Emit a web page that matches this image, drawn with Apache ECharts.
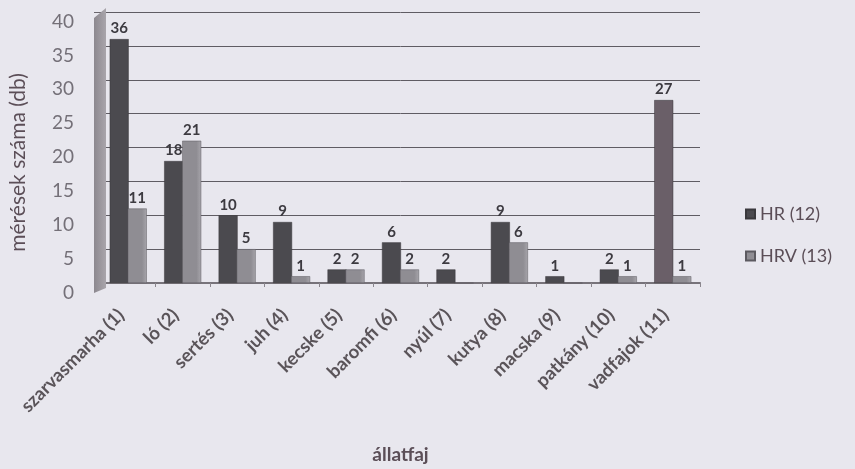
<!DOCTYPE html>
<html>
<head>
<meta charset="utf-8">
<script src="https://cdn.jsdelivr.net/npm/echarts@6/dist/echarts.min.js"></script>
<style>
  html, body { margin: 0; padding: 0; background: #e8e7ee; }
  #chart { width: 855px; height: 469px; }
</style>
</head>
<body>
<div id="chart"></div>
<script>
// Animal species (x categories)
const categories = [
  'szarvasmarha (1)', 'ló (2)', 'sertés (3)', 'juh (4)', 'kecske (5)',
  'baromfi (6)', 'nyúl (7)', 'kutya (8)', 'macska (9)', 'patkány (10)', 'vadfajok (11)'
];
// Number of measurements per species
const hrValues  = [36, 18, 10, 9, 2, 6, 2, 9, 1, 2, 27];
const hrvValues = [11, 21, 5, 1, 2, 2, 0, 6, 0, 1, 1];
const seriesNames = ['HR (12)', 'HRV (13)'];
const yTicks = [0, 5, 10, 15, 20, 25, 30, 35, 40];

const textColor = '#5b4e57';
const fontFam = 'Lato, "Open Sans", sans-serif';
const hrColor = '#4b4a4f';
const hrvColor = '#8f8d93';
const wildColor = '#6a5f68';

const chart = echarts.init(document.getElementById('chart'));

const valueLabel = {
  show: true,
  position: 'top',
  distance: 3,
  fontFamily: fontFam,
  fontWeight: 'bold',
  fontSize: 15,
  color: '#3c3a40',
  formatter: p => (p.value ? p.value : '')
};

// shaded column faces: lighter towards the right edge
const shade = (c1, c2) => new echarts.graphic.LinearGradient(0, 0, 1, 0, [
  { offset: 0, color: c1 }, { offset: 0.75, color: c1 }, { offset: 1, color: c2 }
]);

// the wild-species HR column is drawn in its own tint
const hrData = hrValues.map((v, i) =>
  i === categories.length - 1 ? { value: v, itemStyle: { color: wildColor } } : v
);

chart.setOption({
  backgroundColor: '#e8e7ee',
  animation: false,
  color: [hrColor, hrvColor],
  grid: { left: 100, right: 155, top: 12, bottom: 178, containLabel: false },
  legend: {
    orient: 'vertical',
    left: 740,
    top: 200,
    itemWidth: 9,
    itemHeight: 9,
    itemGap: 24,
    icon: 'rect',
    textStyle: { fontFamily: fontFam, fontSize: 18, color: textColor },
    data: seriesNames
  },
  xAxis: {
    type: 'category',
    data: categories,
    name: 'állatfaj',
    nameLocation: 'middle',
    nameGap: 162,
    nameTextStyle: { fontFamily: fontFam, fontSize: 19, fontWeight: 'bold', color: textColor },
    axisLine: { show: true, lineStyle: { color: '#77737a', width: 2 } },
    axisTick: { show: true, length: 4, lineStyle: { color: '#8a868d' } },
    axisLabel: {
      rotate: 45,
      interval: 0,
      margin: 22,
      padding: [0, 10, 0, 0],
      fontFamily: fontFam,
      fontSize: 18.5,
      fontWeight: 'bold',
      color: '#5a5459'
    }
  },
  yAxis: {
    type: 'value',
    min: 0,
    max: 40,
    interval: 5,
    name: 'mérések száma (db)',
    nameLocation: 'middle',
    nameGap: 72,
    nameTextStyle: { fontFamily: fontFam, fontSize: 21, color: textColor, padding: [0, 30, 0, 0] },
    axisLine: { show: false },
    axisTick: { show: true, length: 7, lineStyle: { color: '#6a666d' } },
    axisLabel: {
      margin: 27,
      fontFamily: fontFam,
      fontSize: 19,
      color: '#747078',
      verticalAlign: 'top',
      formatter: v => (yTicks.includes(v) ? String(v) : '')
    },
    splitLine: { show: true, lineStyle: { color: '#5f5c63', width: 1 } }
  },
  graphic: [
    {
      // shaded left side wall
      type: 'polygon',
      shape: { points: [[94, 18], [106, 8], [106, 288], [94, 293]] },
      style: { fill: new echarts.graphic.LinearGradient(0, 0, 1, 0, [
        { offset: 0, color: '#8c888f' }, { offset: 1, color: '#a9a5ab' }
      ]) },
      z: 1
    }
  ],
  series: [
    {
      name: seriesNames[0],
      type: 'bar',
      data: hrData,
      barWidth: 19,
      barGap: '-5%',
      itemStyle: { color: hrColor, borderColor: '#3a393d', borderWidth: 0.5 },
      label: valueLabel,
      z: 3
    },
    {
      name: seriesNames[1],
      type: 'bar',
      data: hrvValues,
      barWidth: 19,
      itemStyle: { color: shade(hrvColor, '#a7a5ab'), borderColor: '#5c5a60', borderWidth: 0.5 },
      label: valueLabel,
      z: 3
    }
  ]
});
</script>
</body>
</html>
